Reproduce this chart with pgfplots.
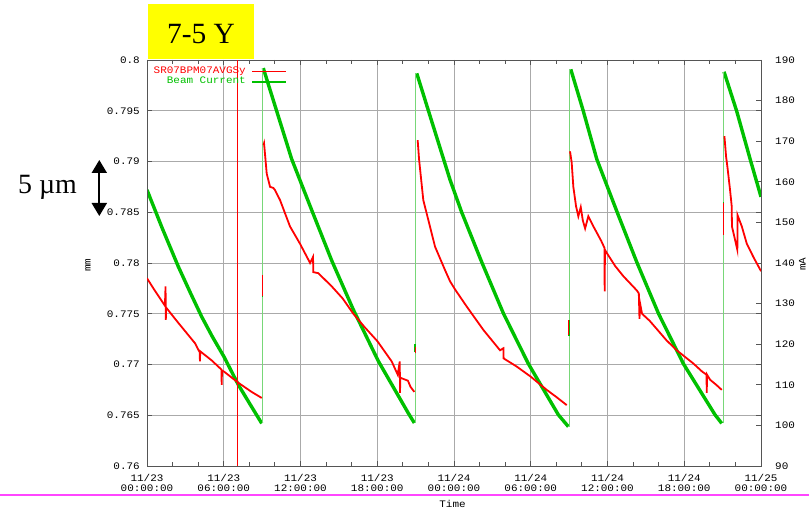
\documentclass[border=0pt]{standalone}
\usepackage{pgfplots}
\pgfplotsset{compat=1.18}
\usepackage{fontspec}
\setmainfont{Liberation Serif}
\newfontfamily\monofont[FakeStretch=1.1]{Liberation Mono}
\newcommand\tickfont{\fontsize{10}{10.5}\selectfont\monofont}
\usetikzlibrary{arrows.meta}

\definecolor{beamgreen}{RGB}{0,192,0}
\definecolor{beamthin}{RGB}{120,215,120}
\definecolor{bpmred}{RGB}{255,0,0}
\definecolor{gridgray}{RGB}{170,170,170}
\definecolor{framegray}{RGB}{85,85,85}
\definecolor{pinkline}{RGB}{255,70,255}
\definecolor{titlebox}{RGB}{255,255,0}

% time axis in hours from 11/23 00:00:00
\pgfplotsset{
  stripframe/.style={
    at={(0bp,0bp)}, anchor=south west, scale only axis,
    width=614bp, height=406bp, xmin=0, xmax=48,
  },
  beamline/.style={color=beamgreen, line width=3.4bp},
  bpmline/.style={color=bpmred, line width=1.8bp, forget plot},
}

\begin{document}
\begin{tikzpicture}
\path[use as bounding box] (-147bp,-44bp) rectangle (662bp,466bp);

% grid behind all data
\begin{axis}[stripframe, ymin=0.76, ymax=0.8,
  xtick={6,12,18,24,30,36,42},
  ytick={0.765,0.77,0.775,0.78,0.785,0.79,0.795},
  xticklabels={}, yticklabels={}, major tick length=0pt,
  grid=major, major grid style={gridgray, line width=0.9bp},
  axis line style={draw=none}]
\end{axis}

% beam current, right-hand scale
\begin{axis}[stripframe, ymin=90, ymax=190,
  axis x line=none, axis y line*=right,
  ytick={90,100,110,120,130,140,150,160,170,180,190},
  yticklabels={90,100,110,120,130,140,150,160,170,180,190},
  tick align=inside, major tick length=5bp,
  tick style={framegray, line width=0.9bp},
  y axis line style={framegray, line width=0.9bp},
  yticklabel style={font=\tickfont, anchor=west, inner sep=0pt, xshift=14bp},
  ylabel={mA},
  ylabel style={at={(axis description cs:1.0675,0.4975)}, anchor=center, inner sep=0pt, font=\tickfont}]
\addplot[beamline] coordinates {
 (0,158.0) (1.2,148.5) (2.45,139.1) (3.4,132.6) (4.27,126.8) (5.1,121.9)
 (6.02,116.9) (7.14,110.0) (8.0,105.5) (8.97,100.5)};
\addplot[beamline] coordinates {
 (9.09,188.0) (10.14,177.4) (11.31,165.6) (12.88,153.0) (14.44,140.6)
 (16.13,128.5) (18.09,115.8) (20.43,103.0) (20.9,100.6)};
\addplot[beamline] coordinates {
 (21.09,186.7) (22.1,176.5) (23.69,160.5) (24.6,152.5) (26.17,140.2)
 (27.86,127.6) (29.81,115.2) (32.16,102.6) (32.94,99.7)};
\addplot[beamline] coordinates {
 (33.13,187.7) (34.11,177.4) (35.16,165.6) (36.72,152.8) (38.29,140.2)
 (39.98,127.6) (41.93,115.2) (44.41,102.6) (44.93,100.5)};
\addplot[beamline] coordinates {
 (45.11,187.1) (46.1,177.4) (47.15,165.6) (48,156.3)};
% injections
\addplot[color=beamthin, line width=0.9bp] coordinates {(9.03,100.5) (9.03,188.0)};
\addplot[color=beamthin, line width=0.9bp] coordinates {(20.96,100.6) (20.96,186.7)};
\addplot[color=beamthin, line width=0.9bp] coordinates {(32.99,99.7) (32.99,187.7)};
\addplot[color=beamthin, line width=0.9bp] coordinates {(45.06,100.5) (45.06,187.1)};
\addplot[color=beamgreen, line width=1.6bp] coordinates {(9.03,131.6) (9.03,137.0)};
\addplot[color=beamgreen, line width=1.6bp] coordinates {(20.96,118.0) (20.96,120.0)};
\addplot[color=beamgreen, line width=1.6bp] coordinates {(32.99,122.0) (32.99,126.0)};
\addplot[color=beamgreen, line width=1.6bp] coordinates {(45.06,147.0) (45.06,155.0)};
\end{axis}

% BPM vertical position, left-hand scale
\begin{axis}[stripframe, ymin=0.76, ymax=0.8,
  xtick={0,6,12,18,24,30,36,42,48},
  minor xtick={2,4,8,10,14,16,20,22,26,28,32,34,38,40,44,46},
  xticklabels={{11/23\\00:00:00},{11/23\\06:00:00},{11/23\\12:00:00},
    {11/23\\18:00:00},{11/24\\00:00:00},{11/24\\06:00:00},
    {11/24\\12:00:00},{11/24\\18:00:00},{11/25\\00:00:00}},
  ytick={0.76,0.765,0.77,0.775,0.78,0.785,0.79,0.795,0.8},
  yticklabels={0.76,0.765,0.77,0.775,0.78,0.785,0.79,0.795,0.8},
  tick align=inside, major tick length=5bp, minor tick length=4bp,
  tick style={framegray, line width=0.9bp},
  axis line style={framegray, line width=0.9bp},
  xticklabel style={font=\tickfont, align=center, inner sep=0pt, yshift=-8bp},
  yticklabel style={font=\tickfont, anchor=east, inner sep=0pt, xshift=-7bp},
  xlabel={Time},
  xlabel style={at={(axis description cs:0.4976,0)}, anchor=center, yshift=-37.5bp, font=\tickfont},
  ylabel={mm},
  ylabel style={at={(axis description cs:-0.0961,0.495)}, anchor=center, font=\tickfont},
  legend plot pos=right, legend cell align=right,
  legend image code/.code={\draw[#1] (0bp,0bp) -- (34bp,0bp);},
  legend style={draw=none, fill=none, at={(rel axis cs:0,1)}, anchor=north west,
    xshift=6bp, yshift=-6bp, inner sep=0pt, row sep=0pt, column sep=5bp,
    nodes={font=\tickfont, inner sep=0.5bp, text height=6.8bp, text depth=2.7bp}}]
% single glitch reading spanning the full scale
\addplot[bpmline, line width=1.0bp] coordinates {(7.06,0.760) (7.06,0.800)};
\addplot[bpmline] coordinates {
 (0,0.7785) (0.5,0.7775) (1.40,0.7758) (1.45,0.7777) (1.47,0.7744) (1.50,0.7756)
 (2.45,0.7741) (3.75,0.7721) (4.12,0.7712) (4.14,0.7703) (4.16,0.7713)
 (5.06,0.7704) (5.82,0.7695) (5.84,0.7680) (5.86,0.7694) (6.02,0.7693)
 (7.14,0.7682) (8.18,0.7673) (8.97,0.7667)};
\addplot[bpmline] coordinates {
 (9.1,0.7916) (9.15,0.7918) (9.36,0.7888) (9.62,0.7875) (9.87,0.7874)
 (10.0,0.7872) (10.4,0.7862) (10.79,0.7849) (11.18,0.7836) (11.96,0.7819)
 (12.75,0.7800) (12.98,0.7806) (13.0,0.7791) (13.39,0.7790) (14.44,0.7777)
 (15.3,0.7765) (16.13,0.7750) (17.0,0.7737) (18.01,0.7723) (19.13,0.7703)
 (19.6,0.7690) (19.76,0.7703) (19.78,0.7672) (19.8,0.7687) (20.0,0.7686)
 (20.4,0.7684) (20.6,0.7678) (20.9,0.7673)};
\addplot[bpmline] coordinates {
 (21.16,0.7921) (21.27,0.7902) (21.6,0.7862) (22.0,0.7842) (22.52,0.7816)
 (23.3,0.7793) (23.69,0.7782) (24.08,0.7774) (25.0,0.7757) (26.3,0.7734)
 (27.6,0.7714) (27.86,0.7716) (27.88,0.7706) (28.9,0.7698) (30.0,0.7688)
 (31.25,0.7675) (32.0,0.7668) (32.81,0.7660)};
\addplot[bpmline] coordinates {
 (33.07,0.7910) (33.2,0.7899) (33.33,0.7875) (33.54,0.7856) (33.72,0.7846)
 (33.91,0.7855) (34.07,0.7842) (34.25,0.7834) (34.5,0.7846) (34.9,0.7836)
 (35.5,0.7822) (35.76,0.7815) (35.78,0.7772) (35.80,0.7813) (35.94,0.7810)
 (36.6,0.7797) (37.24,0.7787) (38.29,0.7773) (38.45,0.7770) (38.5,0.7745)
 (38.55,0.7760) (38.7,0.7750) (39.3,0.7743) (39.85,0.7735) (40.6,0.7724)
 (41.41,0.7714) (42.71,0.7701) (43.4,0.7693) (43.74,0.7690) (43.76,0.7672)
 (43.78,0.7690) (44.02,0.7685) (44.5,0.7680) (44.93,0.7675)};
\addplot[bpmline] coordinates {
 (45.14,0.7925) (45.27,0.7905) (45.4,0.7892) (45.58,0.7872) (45.71,0.7856)
 (45.73,0.7836) (45.97,0.7823) (46.15,0.7813) (46.17,0.7847) (46.5,0.7836)
 (46.89,0.7819) (47.4,0.7806) (48,0.7792)};
% readings taken during injection
\addplot[bpmline, line width=1.0bp] coordinates {(9.03,0.7767) (9.03,0.7788)};
\addplot[bpmline, line width=1.0bp] coordinates {(20.96,0.7711) (20.96,0.7717)};
\addplot[bpmline, line width=1.0bp] coordinates {(32.99,0.7729) (32.99,0.7744)};
\addplot[bpmline, line width=1.0bp] coordinates {(45.06,0.7828) (45.06,0.7859)};
\addlegendimage{color=bpmred, line width=0.8bp}
\addlegendentry{\textcolor{bpmred}{SR07BPM07AVGSy}}
\addlegendimage{color=beamgreen, line width=1.8bp}
\addlegendentry{\textcolor{beamgreen}{Beam Current}}
\end{axis}

% annotations
\fill[titlebox] (1bp,407bp) rectangle (107bp,462bp);
\node[anchor=base, inner sep=0pt, font=\fontsize{29.5}{32}\selectfont] at (54bp,422.7bp) {7-5 Y};
\node[anchor=base west, inner sep=0pt, font=\fontsize{28}{30}\selectfont] at (-129bp,272.7bp) {5 µm};
\draw[line width=2bp, {Triangle[width=15bp,length=13bp]}-{Triangle[width=15bp,length=13bp]}]
  (-47.7bp,306bp) -- (-47.7bp,250bp);
\draw[pinkline, line width=2bp] (-147bp,-29bp) -- (662bp,-29bp);
\end{tikzpicture}
\end{document}
